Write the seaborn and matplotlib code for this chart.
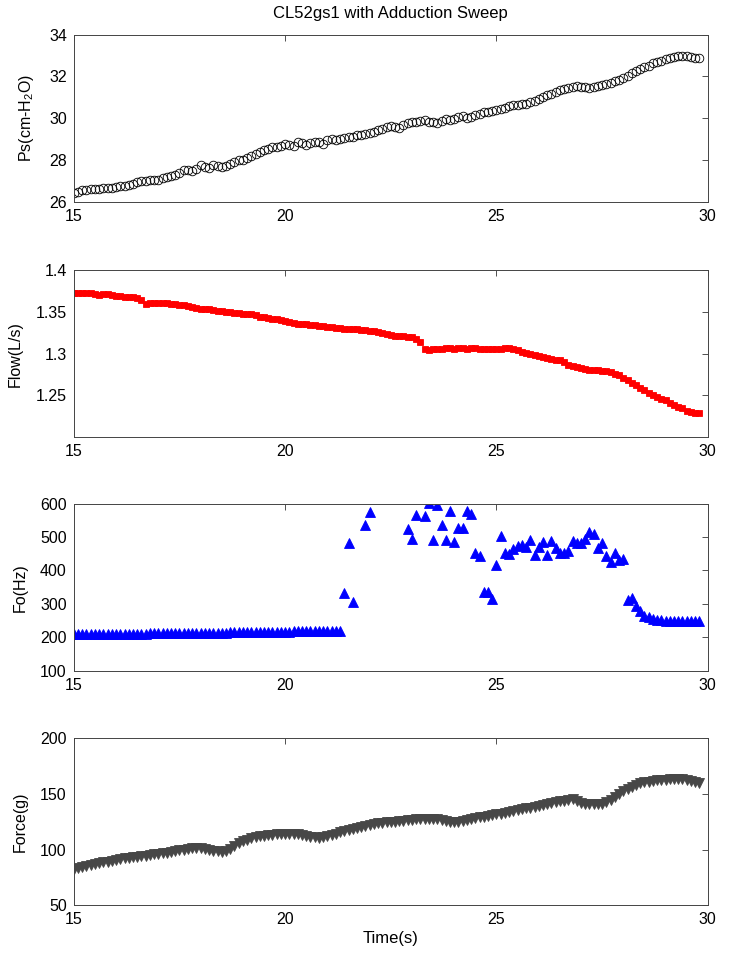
import matplotlib

matplotlib.use("Agg")

import matplotlib.pyplot as plt  # noqa: E402
import numpy as np  # noqa: E402
import pandas as pd  # noqa: E402
import seaborn as sns  # noqa: E402

nan = np.nan

# sample times (s), one row per second
TIME = [
    15.0, 15.1, 15.2, 15.3, 15.4, 15.5, 15.6, 15.7, 15.8, 15.9,
    16.0, 16.1, 16.2, 16.3, 16.4, 16.5, 16.6, 16.7, 16.8, 16.9,
    17.0, 17.1, 17.2, 17.3, 17.4, 17.5, 17.6, 17.7, 17.8, 17.9,
    18.0, 18.1, 18.2, 18.3, 18.4, 18.5, 18.6, 18.7, 18.8, 18.9,
    19.0, 19.1, 19.2, 19.3, 19.4, 19.5, 19.6, 19.7, 19.8, 19.9,
    20.0, 20.1, 20.2, 20.3, 20.4, 20.5, 20.6, 20.7, 20.8, 20.9,
    21.0, 21.1, 21.2, 21.3, 21.4, 21.5, 21.6, 21.7, 21.8, 21.9,
    22.0, 22.1, 22.2, 22.3, 22.4, 22.5, 22.6, 22.7, 22.8, 22.9,
    23.0, 23.1, 23.2, 23.3, 23.4, 23.5, 23.6, 23.7, 23.8, 23.9,
    24.0, 24.1, 24.2, 24.3, 24.4, 24.5, 24.6, 24.7, 24.8, 24.9,
    25.0, 25.1, 25.2, 25.3, 25.4, 25.5, 25.6, 25.7, 25.8, 25.9,
    26.0, 26.1, 26.2, 26.3, 26.4, 26.5, 26.6, 26.7, 26.8, 26.9,
    27.0, 27.1, 27.2, 27.3, 27.4, 27.5, 27.6, 27.7, 27.8, 27.9,
    28.0, 28.1, 28.2, 28.3, 28.4, 28.5, 28.6, 28.7, 28.8, 28.9,
    29.0, 29.1, 29.2, 29.3, 29.4, 29.5, 29.6, 29.7, 29.8,
]

# subglottal pressure, cm H2O
PS = [
    26.42, 26.48, 26.55, 26.58, 26.60, 26.62, 26.62, 26.64, 26.66, 26.66,
    26.70, 26.74, 26.78, 26.82, 26.86, 26.96, 27.00, 27.00, 27.02, 27.02,
    27.06, 27.12, 27.18, 27.22, 27.28, 27.40, 27.52, 27.50, 27.46, 27.58,
    27.75, 27.68, 27.60, 27.78, 27.70, 27.66, 27.72, 27.82, 27.90, 27.98,
    28.02, 28.10, 28.18, 28.28, 28.36, 28.46, 28.55, 28.62, 28.60, 28.66,
    28.78, 28.70, 28.68, 28.86, 28.82, 28.74, 28.82, 28.86, 28.84, 28.76,
    28.96, 29.00, 28.98, 29.00, 29.04, 29.08, 29.12, 29.18, 29.22, 29.26,
    29.30, 29.36, 29.42, 29.48, 29.56, 29.62, 29.58, 29.52, 29.66, 29.78,
    29.82, 29.80, 29.86, 29.90, 29.84, 29.80, 29.78, 29.86, 29.94, 29.90,
    29.96, 30.04, 30.10, 30.02, 30.06, 30.16, 30.22, 30.28, 30.30, 30.34,
    30.40, 30.44, 30.48, 30.56, 30.62, 30.64, 30.66, 30.70, 30.78, 30.84,
    30.94, 31.00, 31.10, 31.18, 31.26, 31.34, 31.40, 31.44, 31.50, 31.54,
    31.50, 31.48, 31.46, 31.48, 31.54, 31.58, 31.64, 31.70, 31.78, 31.84,
    31.92, 32.00, 32.14, 32.24, 32.34, 32.44, 32.52, 32.62, 32.70, 32.76,
    32.84, 32.90, 32.94, 32.98, 32.98, 32.96, 32.92, 32.88, 32.86,
]

# airflow, L/s
FLOW = [
    1.373, 1.373, 1.373, 1.372, 1.372, 1.371, 1.370, 1.371, 1.371, 1.370,
    1.369, 1.369, 1.368, 1.368, 1.368, 1.367, 1.364, 1.359, 1.361, 1.361,
    1.361, 1.360, 1.360, 1.359, 1.359, 1.358, 1.358, 1.357, 1.356, 1.355,
    1.354, 1.353, 1.353, 1.352, 1.351, 1.351, 1.350, 1.350, 1.349, 1.349,
    1.348, 1.347, 1.347, 1.346, 1.344, 1.344, 1.343, 1.342, 1.341, 1.340,
    1.339, 1.338, 1.337, 1.336, 1.335, 1.335, 1.334, 1.334, 1.333, 1.333,
    1.332, 1.332, 1.331, 1.331, 1.330, 1.330, 1.329, 1.329, 1.328, 1.328,
    1.327, 1.327, 1.326, 1.325, 1.323, 1.322, 1.321, 1.321, 1.321, 1.320,
    1.320, 1.318, 1.314, 1.306, 1.304, 1.305, 1.306, 1.306, 1.307, 1.307,
    1.306, 1.307, 1.307, 1.306, 1.307, 1.307, 1.306, 1.306, 1.306, 1.306,
    1.305, 1.306, 1.307, 1.307, 1.306, 1.304, 1.302, 1.301, 1.299, 1.298,
    1.297, 1.296, 1.295, 1.294, 1.293, 1.292, 1.290, 1.287, 1.285, 1.284,
    1.283, 1.282, 1.281, 1.280, 1.280, 1.279, 1.279, 1.278, 1.276, 1.274,
    1.271, 1.268, 1.265, 1.262, 1.259, 1.256, 1.253, 1.250, 1.248, 1.246,
    1.244, 1.241, 1.238, 1.236, 1.235, 1.232, 1.230, 1.229, 1.229,
]

# fundamental frequency, Hz (nan = no estimate)
FO = [
    209, 209, 209, 209, 210, 210, 210, 210, 210, 210,
    211, 211, 211, 211, 211, 211, 211, 211, 212, 212,
    212, 212, 212, 212, 212, 213, 213, 213, 213, 213,
    213, 214, 214, 214, 214, 214, 214, 215, 215, 215,
    215, 215, 216, 216, 216, 216, 216, 217, 217, 217,
    217, 217, 218, 218, 218, 218, 218, 219, 219, 219,
    219, 219, 220, 220, 333, 483, 306, nan, nan, 536,
    576, nan, nan, nan, nan, nan, nan, nan, nan, 523,
    493, 565, nan, 563, 602, 491, 595, 536, 491, 578,
    485, 528, 526, 578, 568, 452, 442, 337, 337, 316,
    417, 502, 453, 449, 465, 473, 475, 469, 492, 446,
    469, 486, 446, 487, 466, 451, 452, 459, 489, 483,
    483, 495, 515, 509, 468, 482, 443, 425, 452, 430,
    433, 313, 319, 293, 278, 263, 261, 254, 252, 251,
    250, 250, 250, 250, 250, 250, 250, 250, 250,
]

# adduction force, g
FORCE = [
    82.5, 83.5, 84.5, 85.3, 86.0, 87.0, 87.8, 88.5, 89.2, 90.0,
    90.8, 91.3, 92.0, 92.6, 93.0, 93.6, 94.2, 94.6, 95.0, 95.6,
    96.2, 96.8, 97.3, 97.9, 98.6, 99.3, 100.0, 100.7, 101.3, 101.8,
    101.6, 100.6, 99.5, 98.9, 98.3, 97.9, 98.4, 100.8, 103.5, 105.6,
    107.4, 108.8, 110.0, 111.0, 111.8, 112.5, 113.0, 113.4, 113.7, 114.0,
    114.2, 114.2, 114.0, 113.6, 112.8, 111.9, 111.2, 110.8, 110.6, 110.9,
    111.8, 113.0, 114.3, 115.5, 116.6, 117.6, 118.5, 119.4, 120.3, 121.0,
    121.8, 122.6, 123.4, 124.2, 124.7, 124.5, 124.6, 125.2, 125.8, 126.3,
    126.7, 127.1, 127.5, 127.7, 127.8, 127.6, 127.2, 126.6, 125.7, 125.0,
    124.6, 125.0, 125.8, 126.6, 127.4, 128.2, 128.9, 129.6, 130.3, 130.9,
    131.5, 132.1, 132.8, 133.6, 134.4, 135.3, 136.1, 136.9, 137.6, 138.4,
    139.2, 140.0, 140.8, 141.6, 142.4, 143.1, 143.8, 144.4, 145.3, 143.6,
    141.8, 141.0, 140.6, 140.4, 140.5, 140.7, 142.2, 144.8, 147.4, 150.0,
    152.3, 154.4, 156.3, 158.0, 159.3, 160.3, 161.0, 161.6, 162.1, 162.5,
    162.8, 163.2, 163.5, 163.6, 163.4, 162.6, 161.4, 160.3, 159.5,
]

X_TICKS = [15, 20, 25, 30]

PS_TICKS = [26, 28, 30, 32, 34]
FLOW_TICKS = [1.25, 1.3, 1.35, 1.4]
FO_TICKS = [100, 200, 300, 400, 500, 600]
FORCE_TICKS = [50, 100, 150, 200]

df = pd.DataFrame(
    {"time": TIME, "ps": PS, "flow": FLOW, "fo": FO, "force": FORCE}
)

sns.set_theme(style="white")
plt.rcParams["font.family"] = ["Liberation Sans", "DejaVu Sans"]
plt.rcParams["mathtext.default"] = "regular"
plt.rcParams["text.color"] = "black"
plt.rcParams["axes.labelcolor"] = "black"

fig = plt.figure(figsize=(7.53, 9.61), dpi=100)

# (column, ylabel, ylim, yticks, marker, colour, filled, size, axes bottom)
panels = [
    ("ps", "Ps(cm-H$_2$O)", (26, 34), PS_TICKS, "o", "black", False, 6.2, 0.790),
    ("flow", "Flow(L/s)", (1.2, 1.4), FLOW_TICKS, "s", "#ff0000", True, 4.6, 0.545),
    ("fo", "Fo(Hz)", (100, 600), FO_TICKS, "^", "#0000ff", True, 7.0, 0.302),
    ("force", "Force(g)", (50, 200), FORCE_TICKS, "v", "#474747", True, 6.6, 0.058),
]

axes = []
for col, label, ylim, yticks, marker, colour, filled, size, bottom in panels:
    ax = fig.add_axes([0.098, bottom, 0.842, 0.174])
    sns.lineplot(
        data=df,
        x="time",
        y=col,
        ax=ax,
        linestyle="none",
        marker=marker,
        markersize=size,
        markerfacecolor=colour if filled else "none",
        markeredgecolor=colour,
        markeredgewidth=0.6,
        color=colour,
        errorbar=None,
    )
    ax.set_xlim(15, 30)
    ax.set_ylim(*ylim)
    ax.set_xticks(X_TICKS)
    ax.set_yticks(yticks)
    ax.set_yticklabels([f"{v:g}" for v in yticks])
    ax.set_ylabel(label, fontsize=11.5, labelpad=9, color="black")
    ax.set_xlabel("")
    ax.tick_params(
        direction="in", top=True, right=True, length=4, width=0.6,
        colors="#333333", labelcolor="black", labelsize=11.5, pad=5,
    )
    for spine in ax.spines.values():
        spine.set_visible(True)
        spine.set_color("#444444")
        spine.set_linewidth(0.7)
    axes.append(ax)

axes[0].set_title("CL52gs1 with Adduction Sweep", fontsize=12, pad=12, color="black")
axes[-1].set_xlabel("Time(s)", fontsize=12, labelpad=3, color="black")

fig.savefig("out.png", dpi=100)
